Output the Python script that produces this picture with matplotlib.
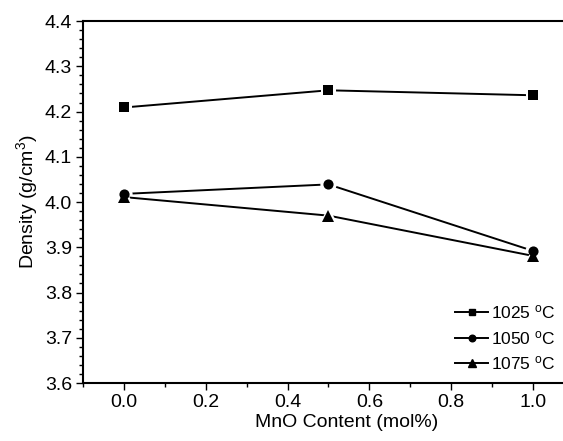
import matplotlib
matplotlib.use('Agg')
import matplotlib.pyplot as plt
from matplotlib.ticker import MultipleLocator, FormatStrFormatter
from matplotlib.lines import Line2D

plt.rcParams['font.family'] = 'Liberation Sans'
plt.rcParams['mathtext.fontset'] = 'custom'
plt.rcParams['mathtext.rm'] = 'Liberation Sans'
plt.rcParams['mathtext.it'] = 'Liberation Sans'

# data
mno = [0.0, 0.5, 1.0]
d_1025 = [4.209, 4.247, 4.236]
d_1050 = [4.018, 4.039, 3.892]
d_1075 = [4.011, 3.970, 3.881]
labels = ['1025 $^\\mathrm{o}$C', '1050 $^\\mathrm{o}$C', '1075 $^\\mathrm{o}$C']

fig = plt.figure(figsize=(5.63, 4.41), dpi=100)
ax = fig.add_axes([0.1474, 0.1315, 0.872, 0.8207])

series = [(d_1025, 's', 6.5), (d_1050, 'o', 7.3), (d_1075, '^', 8.3)]
handles = []
for (vals, mk, ms), lab in zip(series, labels):
    # line with white halo around points (gap like the original)
    ax.plot(mno, vals, color='black', lw=1.4, marker=mk, markersize=ms + 2.2,
            markerfacecolor='white', markeredgecolor='white', markeredgewidth=2.2,
            zorder=2)
    handles.append(Line2D([], [], color='black', lw=1.4, marker=mk,
                          markersize=ms * 0.65, label=lab))
for vals, mk, ms in series:
    ax.plot(mno, vals, ls='none', marker=mk, markersize=ms, color='black',
            markeredgewidth=0, zorder=3)

ax.set_xlim(-0.1, 1.1)
ax.set_ylim(3.6, 4.4)
ax.xaxis.set_major_locator(MultipleLocator(0.2))
ax.xaxis.set_minor_locator(MultipleLocator(0.1))
ax.yaxis.set_major_locator(MultipleLocator(0.1))
ax.yaxis.set_minor_locator(MultipleLocator(0.02))
ax.xaxis.set_major_formatter(FormatStrFormatter('%.1f'))
ax.yaxis.set_major_formatter(FormatStrFormatter('%.1f'))

ax.tick_params(which='both', direction='out', top=False, right=False, width=1,
               labelsize=14, pad=3)
ax.tick_params(which='major', length=5)
ax.tick_params(which='minor', length=3)
for s in ax.spines.values():
    s.set_linewidth(1.5)

ax.set_xlabel('MnO Content (mol%)', fontsize=14, labelpad=2)
ax.xaxis.set_label_coords(0.536, -0.085)
ax.set_ylabel('Density (g/cm$^3$)', fontsize=14, labelpad=3)

ax.legend(handles=handles, loc='lower right', bbox_to_anchor=(0.963, 0.03),
          frameon=False, fontsize=12.5, handlelength=1.95, handletextpad=0.15,
          labelspacing=0.42, borderpad=0, borderaxespad=0)

fig.savefig('out.png', dpi=100)
